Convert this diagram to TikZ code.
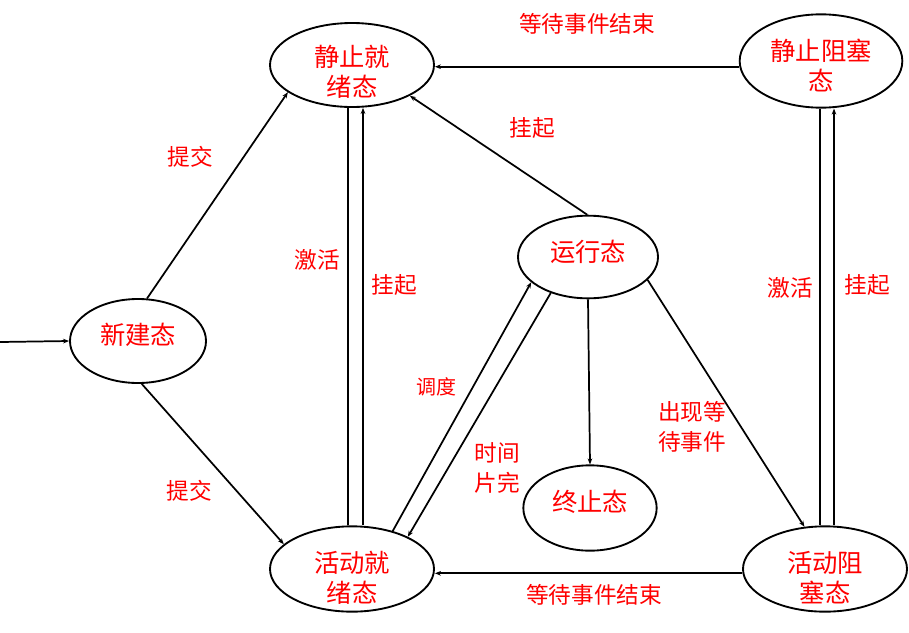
\documentclass[tikz,border=0pt]{standalone}
\usepackage{fontspec}
\newfontfamily\cjk{Noto Sans CJK SC}
\usetikzlibrary{shapes.geometric,arrows.meta}

\tikzset{
  state/.style={draw, ellipse, line width=1.4pt, inner sep=0pt},
  statetxt/.style={inner sep=0pt, align=center, text=red, font=\cjk\fontsize{19}{22}\selectfont},
  lbl/.style={inner sep=0pt, align=center, text=red, font=\cjk\fontsize{17}{22}\selectfont},
  link/.style={line width=1.3pt, -{Stealth[length=4.5pt,width=3.5pt]}},
  plain/.style={line width=1.3pt}
}

\begin{document}
\begin{tikzpicture}[x=0.75pt,y=0.75pt,yscale=-1,xscale=1]
\useasboundingbox (0,0) rectangle (909,632);

%Shape: Ellipse
\node [state, minimum width=123pt, minimum height=63pt,
  label={[statetxt, yshift=-5pt]center:静止就\\绪态}] (sr) at (352,65) {};
%Shape: Ellipse
\node [state, minimum width=122pt, minimum height=70pt,
  label={[statetxt, yshift=-3.5pt]center:静止阻塞\\态}] (sb) at (821,61) {};
%Shape: Ellipse
\node [state, minimum width=105pt, minimum height=62pt,
  label={[statetxt, yshift=3.75pt]center:运行态}] (run) at (588,257) {};
%Shape: Ellipse
\node [state, minimum width=102pt, minimum height=63pt,
  label={[statetxt, yshift=4.5pt]center:新建态}] (new) at (138,341) {};
%Shape: Ellipse
\node [state, minimum width=100pt, minimum height=64pt,
  label={[statetxt, yshift=5pt]center:终止态}] (end) at (590,508) {};
%Shape: Ellipse
\node [state, minimum width=123pt, minimum height=64pt,
  label={[statetxt, yshift=-6.5pt]center:活动就\\绪态}] (ar) at (352,569) {};
%Shape: Ellipse
\node [state, minimum width=123pt, minimum height=64pt,
  label={[statetxt, yshift=-6.5pt]center:活动阻\\塞态}] (ab) at (825,569) {};

\coordinate (start) at (0,342);

%Straight Lines
\draw [link] (start) -- (new.west);
\draw [link] (new.78) -- (sr.-157);
\draw [link] (new.-85) -- (ar.160);
\draw [link] (sb.184) -- (sb.184 -| sr.east);
\draw [link] (run.91) -- (sr.-28);
\draw [plain] ([xshift=-3pt]sr.south) -- ([xshift=-3pt]sr.south |- ar.north);
\draw [link] ([xshift=8.25pt]sr.south |- ar.north) -- ([xshift=8.25pt]sr.south);
\draw [link] (ar.43) -- (run.-156);
\draw [link] (run.-136) -- (ar.30);
\draw [link] (run.south) -- (end.north);
\draw [link] (run.-21) -- (ab.116);
\draw [link] (ab.183) -- (ab.183 -| ar.east);
\draw [plain] ([xshift=-0.75pt]sb.south) -- ([xshift=-0.75pt]sb.south |- ab.north);
\draw [link] ([xshift=9.75pt]sb.south |- ab.north) -- ([xshift=9.75pt]sb.south);

% Text Node
\node [lbl] (waitTop) at (587,24) {等待事件结束};
% Text Node
\node [lbl] (susTop) at (532,128) {挂起};
% Text Node
\node [lbl] (subUp) at (190,157) {提交};
% Text Node
\node [lbl] (subLow) at (189,491) {提交};
% Text Node
\node [lbl] (actL) at (317,260) {激活};
% Text Node
\node [lbl] (susL) at (394,285) {挂起};
% Text Node
\node [lbl, font=\cjk\fontsize{15}{18}\selectfont] (sched) at (436,387) {调度};
% Text Node
\node [lbl] (slice) at (497,468) {时间\\片完};
% Text Node
\node [lbl] (evt) at (692,427) {出现等\\待事件};
% Text Node
\node [lbl] (waitLow) at (594,595) {等待事件结束};
% Text Node
\node [lbl] (actR) at (790,288) {激活};
% Text Node
\node [lbl] (susR) at (867,285) {挂起};

\end{tikzpicture}
\end{document}
